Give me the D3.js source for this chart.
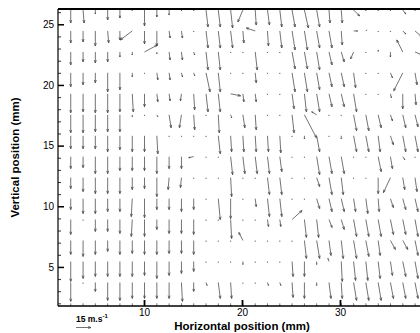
<!DOCTYPE html>
<html>
<head>
<meta charset="utf-8">
<script src="https://cdn.jsdelivr.net/npm/d3@7"></script>
<style>
    body { margin: 0; background: #fff; }
    text { font-family: "Liberation Sans", Arial, Helvetica, sans-serif; fill: #000; }
    .tickLabel { font-size: 10px; }
    .axisTitle { font-size: 11.5px; font-weight: bold; }
    .vec { stroke: #454545; stroke-width: 0.75; fill: none; }
</style>
</head>
<body>
<div id="chart"></div>
<script>

var width = 420, height = 333;

// grid positions (mm)
var colX = [2.52, 3.78, 5.03, 6.29, 7.54, 8.80, 10.05, 11.31, 12.56, 13.82,
    15.07, 16.33, 17.58, 18.84, 20.09, 21.35, 22.60, 23.86, 25.11, 26.37,
    27.62, 28.88, 30.13, 31.39, 32.64, 33.90, 35.15, 36.41, 37.66];
var rowY = [26.18, 24.45, 22.72, 21.00, 19.27, 17.54, 15.81, 14.09,
    12.36, 10.63, 8.91, 7.18, 5.45, 3.72, 2.00];

// horizontal velocity (m/s), one array per row, top to bottom
var uRows = [
    [0,1,0,0,0, 0,0,0,0,0, 0,2,2,2,-5, 1,2,2,3,4, 3,1,1,6,0, 0,0,3,0],
    [0,0,0,1,0, -12,0,0,1,1, 0,2,2,2,1, -9,1,2,3,3, 3,3,1,4,1, 0,0,3,7],
    [0,0,0,0,0, 0,13,0,1,1, 1,2,2,0,0, 2,0,0,3,3, 3,3,3,-3,0, 0,0,-6,7],
    [0,0,0,0,0, 0,0,1,1,1, 1,4,2,0,0, 1,0,0,3,3, 3,3,3,2,0, 0,2,-9,2],
    [0,0,0,0,0, 1,0,1,1,-1, 1,2,2,10,1, 1,0,0,2,2, 3,3,3,3,0, 0,1,0,1],
    [0,0,0,0,0, 0,0,1,2,-2, 1,0,1,1,2, 1,0,0,2,12, -5,0,0,3,3, 3,2,3,3],
    [0,0,0,0,0, 0,0,1,0,0, 0,0,2,1,1, 1,1,1,0,0, 3,0,0,3,3, 2,3,3,3],
    [0,0,0,0,0, 0,0,0,0,0, -5,0,0,2,2, 2,2,2,0,0, 3,3,3,0,0, 3,2,2,0],
    [0,0,0,0,0, 0,0,0,-1,-1, 0,0,0,1,0, 0,2,2,0,0, 3,3,2,0,0, 0,-7,2,2],
    [0,0,0,0,0, -1,0,0,0,0, 0,0,2,0,0, 1,2,2,0,0, 3,3,3,2,2, 1,3,3,3],
    [0,0,0,0,0, -1,0,0,0,0, 0,0,0,1,0, 0,1,1,10,2, 2,3,3,3,3, 3,3,3,3],
    [0,0,0,0,0, 0,0,0,0,0, 0,0,0,0,-4, 0,0,0,0,2, 3,2,2,3,3, 2,5,5,3],
    [0,0,0,0,0, 0,0,0,0,0, 0,0,0,0,0, 0,0,0,1,0, 0,-1,1,2,2, 2,2,3,3],
    [0,0,0,0,0, 0,0,0,0,1, 0,1,2,1,0, 0,1,1,1,0, 0,2,1,3,3, 3,3,3,3],
    [0,0,0,0,0, 0,0,0,0,0, 0,0,0,0,0, 0,0,0,0,0, 0,1,1,1,1, 1,1,1,1]
];

// vertical velocity (m/s), negative = downward
var vRows = [
    [-13,-13,-4,-10,-8, -1,-16,-7,-5,-1, -1,-17,-17,-18,-12, -15,-15,-17,-17,-18, -17,-13,-13,-6,-1, -1,-1,-4,-1],
    [-12,-11,-15,-12,-9, -9,-13,-15,-7,-7, -1,-17,-17,-17,-12, 3,-15,-17,-19,-19, -17,-17,-14,0,1, -1,-1,-3,-6],
    [-13,-10,-11,-10,-5, -3,7,-2,-8,-8, -3,-18,-18,-1,-1, -18,-1,-1,-17,-17, -18,-13,-10,-7,-1, 2,-5,12,-3],
    [-14,-12,-10,-19,-17, -4,-1,-7,-7,-4, -3,-19,-19,-1,-1, -10,-1,-1,-19,-19, -17,-14,-14,-15,-1, -1,-5,-18,-12],
    [-19,-18,-19,-19,-18, -18,-13,-8,-7,-7, -16,-18,-18,-2,-8, -8,-1,-1,-15,-18, -18,-13,-13,-18,-1, -1,-4,-15,-11],
    [-18,-18,-17,-17,-17, -2,-1,-2,-13,-13, -15,-1,-18,-3,-13, -15,-1,-1,-18,-23, 3,-1,-1,-16,-16, -13,-6,-13,-12],
    [-13,-13,-13,-16,-14, -16,-16,-18,-1,-1, -1,-1,-18,-16,-16, -16,-16,-17,-1,-3, -16,-1,-3,-16,-16, -16,-9,-16,-16],
    [-12,-11,-17,-17,-14, -14,-14,-17,-12,-12, -1,-1,-1,-18,-17, -17,-17,-15,-1,-1, -18,-17,-17,-1,-1, -15,-12,-3,-1],
    [-11,-14,-16,-16,-16, -12,-11,-19,-12,-10, -1,-1,-1,-19,-1, -1,-17,-17,-1,-1, -9,-17,-17,-1,-1, -16,-15,-12,-14],
    [-11,-15,-15,-13,-13, -18,-19,-11,-11,-13, -11,-1,-21,-20,-1, -8,-18,-18,-1,-1, -10,-13,-13,-13,-15, -13,-9,-11,-13],
    [-15,-1,-12,-12,-14, -17,-17,-10,-14,-14, -15,-1,-1,-19,-1, -1,-7,-7,9,-18, -18,-8,-10,-17,-17, -17,-15,-15,-17],
    [-14,-16,-14,-11,-14, -13,-14,-14,-13,-13, -14,-1,-1,-1,8, -1,-1,-1,-1,-18, -18,-15,-18,-18,-16, -15,-9,-9,-15],
    [-20,-17,-15,-15,-15, -15,-14,-17,-14,-12, -10,-1,-1,-1,-3, -1,-1,-1,-15,-15, -3,3,-20,-19,-19, -17,-14,-15,-17],
    [-19,-1,-9,-18,-18, -16,-16,-16,-16,-19, -9,-3,-16,-16,-1, -1,-3,-3,-15,-16, -3,-16,-16,-18,-18, -18,-16,-16,-16],
    [-12,-12,-12,-12,-12, -12,-12,-12,-12,-12, -12,-3,-3,-3,-3, -3,-3,-3,-3,-12, -3,-12,-12,-12,-12, -12,-12,-12,-12]
];

var xTicks = [10, 20, 30];
var yTicks = [5, 10, 15, 20, 25];
var yMinorTicks = [2,3,4,6,7,8,9,11,12,13,14,16,17,18,19,21,22,23,24,26];
var refSpeed = 15;   // legend arrow, m/s

var plotLeft = 58, plotRight = 426, plotTop = 9, plotBottom = 306;

var x = d3.scaleLinear().domain([1.22, 38.78]).range([plotLeft, plotRight]);
var y = d3.scaleLinear().domain([1.78, 26.26]).range([plotBottom, plotTop]);
// px per m/s for the vector length
var vel = d3.scaleLinear().domain([0, 15]).range([0, 15]);

var svg = d3.select("#chart")
    .append("svg")
    .attr("width", width)
    .attr("height", height)

svg.append("clipPath")
    .attr("id", "plotClip")
    .append("rect")
    .attr("x", plotLeft)
    .attr("y", plotTop)
    .attr("width", plotRight - plotLeft)
    .attr("height", plotBottom - plotTop)

// builds an arrow path with the tail at (x0, y0)
var arrowPath = function (x0, y0, dx, dy) {
    var len = Math.sqrt(dx * dx + dy * dy);
    var x1 = x0 + dx, y1 = y0 + dy;
    var p = "M" + x0 + "," + y0 + "L" + x1 + "," + y1;
    if (len < 0.5) return p;
    var ang = Math.atan2(dy, dx);
    var h = Math.min(3, len * 0.3);
    var a = 20 * Math.PI / 180;
    p += "M" + (x1 - h * Math.cos(ang - a)) + "," + (y1 - h * Math.sin(ang - a))
        + "L" + x1 + "," + y1
        + "L" + (x1 - h * Math.cos(ang + a)) + "," + (y1 - h * Math.sin(ang + a));
    return p;
}

var vectors = [];
rowY.forEach(function (yy, r) {
    colX.forEach(function (xx, c) {
        vectors.push({ x: xx, y: yy, u: uRows[r][c], v: vRows[r][c] });
    })
})

svg.append("g")
    .attr("clip-path", "url(#plotClip)")
    .selectAll("path")
    .data(vectors)
    .enter().append("path")
    .attr("class", "vec")
    .attr("d", function (d) {
        return arrowPath(x(d.x), y(d.y), vel(d.u), -vel(d.v));
    })

// frame
svg.append("line")
    .attr("x1", plotLeft).attr("x2", width)
    .attr("y1", plotTop).attr("y2", plotTop)
    .attr("stroke", "#000").attr("stroke-width", 2)
svg.append("line")
    .attr("x1", plotLeft).attr("x2", width)
    .attr("y1", plotBottom).attr("y2", plotBottom)
    .attr("stroke", "#000").attr("stroke-width", 1.5)
svg.append("line")
    .attr("x1", plotLeft).attr("x2", plotLeft)
    .attr("y1", plotTop).attr("y2", plotBottom)
    .attr("stroke", "#000").attr("stroke-width", 1.2)

// y axis, ticks pointing inward
var yAxis = svg.append("g")
    .attr("transform", "translate(" + plotLeft + ",0)")
    .call(d3.axisLeft(y).tickValues(yTicks).tickSizeInner(-6).tickSizeOuter(0).tickPadding(4))
yAxis.select(".domain").remove()
yAxis.selectAll("line").attr("stroke-width", 1.5)
yAxis.selectAll("text").attr("class", "tickLabel").attr("font-family", null).attr("font-size", null)

var yMinor = svg.append("g")
    .attr("transform", "translate(" + plotLeft + ",0)")
    .call(d3.axisLeft(y).tickValues(yMinorTicks).tickSizeInner(-3).tickSizeOuter(0).tickFormat(""))
yMinor.select(".domain").remove()
yMinor.selectAll("line").attr("stroke-width", 0.8)

var xAxis = svg.append("g")
    .attr("transform", "translate(0," + plotBottom + ")")
    .call(d3.axisBottom(x).tickValues(xTicks).tickSizeInner(-6).tickSizeOuter(0).tickPadding(3))
xAxis.select(".domain").remove()
xAxis.selectAll("line").attr("stroke-width", 1.8)
xAxis.selectAll("text").attr("class", "tickLabel").attr("font-family", null).attr("font-size", null)

// axis titles
svg.append("text")
    .attr("class", "axisTitle")
    .attr("x", x(20))
    .attr("y", 329.5)
    .attr("text-anchor", "middle")
    .text("Horizontal position (mm)")

svg.append("text")
    .attr("class", "axisTitle")
    .attr("text-anchor", "middle")
    .attr("transform", "translate(18.5," + ((plotTop + plotBottom) / 2) + ") rotate(-90)")
    .text("Vertical position (mm)")

// reference vector
var legend = svg.append("g")
    .attr("transform", "translate(76,0)")

var lt = legend.append("text")
    .attr("x", 0)
    .attr("y", 321.5)
    .style("font-size", "8.5px")
    .style("font-weight", "bold")
lt.append("tspan").text(refSpeed + " m.s")
lt.append("tspan")
    .attr("dy", -3.5)
    .style("font-size", "6px")
    .text("-1")

legend.append("path")
    .attr("class", "vec")
    .attr("d", arrowPath(0, 327.5, vel(refSpeed), 0))

</script>
</body>
</html>
